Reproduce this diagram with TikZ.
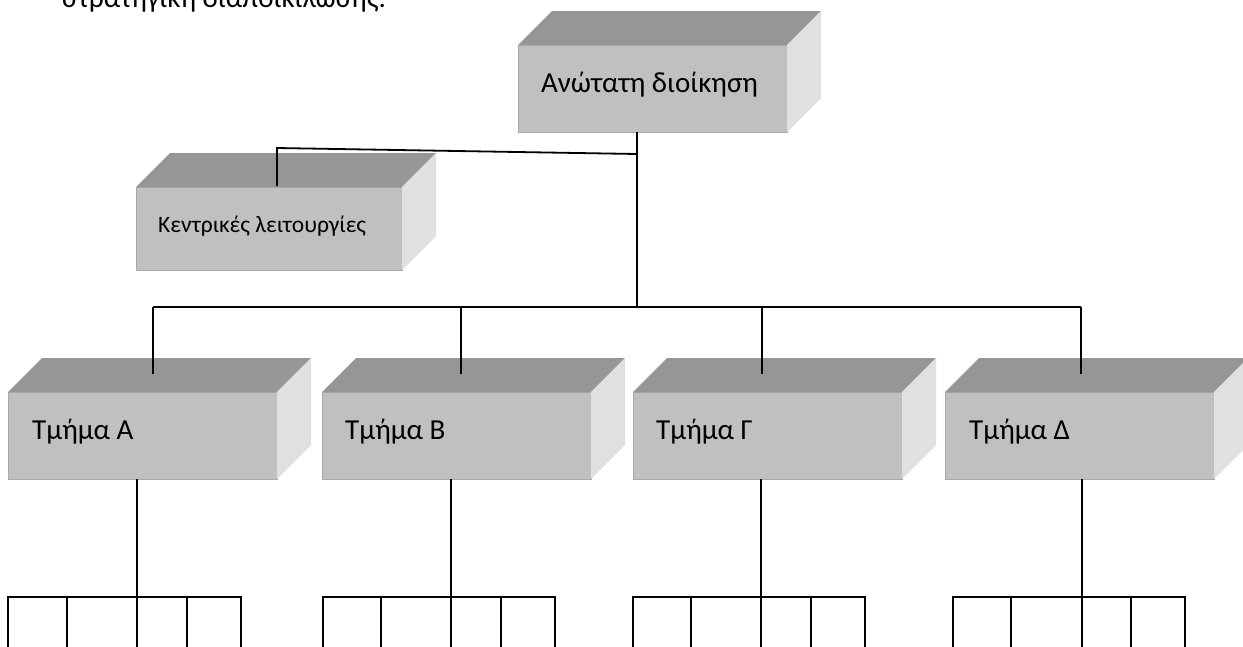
\documentclass[tikz,border=0pt]{standalone}
\usepackage{fontspec}
\setmainfont{Carlito}
\usetikzlibrary{calc}
\definecolor{frontc}{RGB}{192,192,192}
\definecolor{topc}{RGB}{150,150,150}
\definecolor{sidec}{RGB}{224,224,224}
\definecolor{edgec}{RGB}{168,168,168}
\newcommand\cubebox[5]{%
  \node[front, minimum width=#4pt, minimum height=#5pt] (#1) at (#2,#3) {};
  \fill[topface] (#1.north west) -- ++(34,-34) -- ++(#4,0) -- (#1.north east) -- cycle;
  \fill[sideface] (#1.north east) -- ++(34,-34) -- ++(0,#5) -- (#1.south east) -- cycle;
}
\begin{document}
\begin{tikzpicture}[x=1pt,y=-1pt,
  front/.style={fill=frontc, draw=edgec, line width=0.8pt, anchor=north west, inner sep=0pt, outer sep=0pt},
  topface/.style={fill=topc},
  sideface/.style={fill=sidec},
  conn/.style={line width=1.8pt, draw=black},
  lbl/.style={anchor=base west, inner sep=0pt, font=\fontsize{29}{35}\selectfont},
  slbl/.style={anchor=base west, inner sep=0pt, font=\fontsize{23.5}{28}\selectfont},
]
\useasboundingbox (0,0) rectangle (1243,646);
\begin{scope}
\clip (0,0) rectangle (1243,646);
% title (clipped at top)
\node[lbl] (title) at (62,7) {στρατηγική διαποικίλωσης.};

% boxes
\cubebox{top}{518}{45}{269}{87}
\cubebox{kent}{136}{187}{266}{83}
\cubebox{ta}{8}{392}{269}{87}
\cubebox{tb}{322}{392}{269}{87}
\cubebox{tc}{633}{392}{269}{87}
\cubebox{td}{945}{392}{269}{87}

% labels
\node[lbl] (ltop) at ($(top.north west)+(23,47)$) {Ανώτατη διοίκηση};
\node[slbl] (lkent) at ($(kent.north west)+(22,45)$) {Κεντρικές λειτουργίες};
\node[lbl] (lta) at ($(ta.north west)+(24,47)$) {Τμήμα Α};
\node[lbl] (ltb) at ($(tb.north west)+(23,47)$) {Τμήμα Β};
\node[lbl] (ltc) at ($(tc.north west)+(23,47)$) {Τμήμα Γ};
\node[lbl] (ltd) at ($(td.north west)+(24,47)$) {Τμήμα Δ};

% connector coordinates
\coordinate (s1) at (637,154);
\coordinate (s2) at (637,307);
\coordinate (k1) at (277,148);
\coordinate (k2) at (277,186);
\coordinate (ba) at (153,307);
\coordinate (bb) at (461,307);
\coordinate (bc) at (762,307);
\coordinate (bd) at (1081,307);
\coordinate (ea) at (153,374);
\coordinate (eb) at (461,374);
\coordinate (ec) at (762,374);
\coordinate (ed) at (1081,374);

% upper connectors
\draw[conn] (top.south -| s1) -- (s1) -- (s2);
\draw[conn] (s1) -- (k1) -- (k2);
\draw[conn] (ba) -- (bd);
\draw[conn] (ba) -- (ea);
\draw[conn] (bb) -- (eb);
\draw[conn] (bc) -- (ec);
\draw[conn] (bd) -- (ed);

% lower connectors
\foreach \nm/\c/\a/\b/\d/\e in {ta/137/8/67/187/241, tb/451/323/381/501/555, tc/761/633/691/811/865, td/1082/953/1011/1131/1185}{
  \coordinate (\nm-j) at (\c,597);
  \draw[conn] (\nm.south -| \nm-j) -- (\nm-j) -- (\c,650);
  \draw[conn] (\a,650) -- (\a,597) -- (\e,597) -- (\e,650);
  \draw[conn] (\b,597) -- (\b,650);
  \draw[conn] (\d,597) -- (\d,650);
}
\end{scope}
\end{tikzpicture}
\end{document}
